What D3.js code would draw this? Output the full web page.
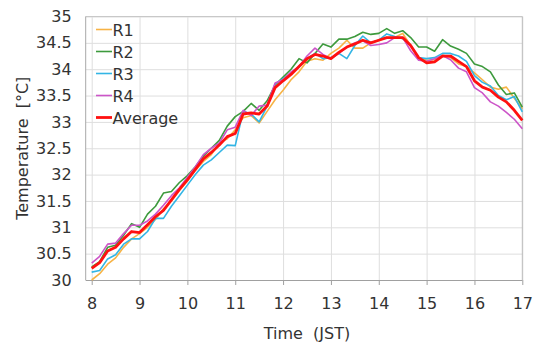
<!DOCTYPE html>
<html>
<head>
<meta charset="utf-8">
<script src="https://cdn.jsdelivr.net/npm/d3@7"></script>
<style>
  body { margin: 0; background: #fff; }
  text { font-family: "DejaVu Sans", sans-serif; fill: #333; }
</style>
</head>
<body>
<svg id="canvas" width="534" height="345"></svg>
<script>
// time every 10 min from 8:00 to 17:00
const times = d3.range(0, 55).map(i => 8 + i / 6);

const r1 = [30.0,30.12,30.3,30.42,30.62,30.78,30.88,31.0,31.15,31.35,31.5,31.7,31.88,32.08,32.25,32.38,32.6,32.68,32.85,33.08,33.12,32.98,33.2,33.42,33.6,33.8,33.95,34.15,34.2,34.17,34.3,34.4,34.55,34.4,34.4,34.5,34.55,34.6,34.6,34.68,34.45,34.22,34.17,34.18,34.27,34.22,34.1,34.05,33.93,33.8,33.66,33.62,33.66,33.45,33.25];
const r2 = [30.25,30.35,30.62,30.66,30.85,31.07,31.0,31.25,31.4,31.65,31.68,31.85,31.98,32.15,32.35,32.5,32.65,32.92,33.1,33.2,33.35,33.22,33.4,33.7,33.85,34.0,34.2,34.12,34.3,34.48,34.42,34.57,34.57,34.62,34.7,34.66,34.68,34.77,34.68,34.73,34.6,34.42,34.42,34.34,34.56,34.44,34.38,34.3,34.1,34.05,33.95,33.7,33.52,33.55,33.28];
const r3 = [30.15,30.18,30.4,30.48,30.68,30.78,30.78,30.92,31.17,31.17,31.4,31.6,31.8,32.0,32.18,32.28,32.42,32.56,32.55,33.2,33.15,33.0,33.3,33.72,33.82,33.92,34.05,34.2,34.3,34.2,34.22,34.3,34.2,34.45,34.63,34.5,34.55,34.67,34.62,34.58,34.45,34.22,34.2,34.22,34.3,34.3,34.25,34.15,33.88,33.75,33.68,33.5,33.42,33.48,33.19];
const r4 = [30.32,30.45,30.68,30.7,30.88,31.04,31.04,31.12,31.25,31.42,31.6,31.75,31.95,32.15,32.38,32.5,32.6,32.85,32.9,33.22,33.12,33.3,33.32,33.74,33.8,33.95,34.05,34.25,34.4,34.28,34.2,34.3,34.42,34.5,34.54,34.45,34.47,34.5,34.6,34.6,34.35,34.17,34.15,34.2,34.26,34.18,34.02,33.95,33.65,33.55,33.38,33.3,33.18,33.05,32.87];
const average = [30.22,30.33,30.55,30.62,30.78,30.92,30.9,31.05,31.2,31.32,31.52,31.72,31.9,32.1,32.3,32.42,32.56,32.72,32.78,33.15,33.17,33.15,33.3,33.65,33.78,33.9,34.05,34.2,34.28,34.25,34.2,34.32,34.42,34.48,34.55,34.5,34.55,34.6,34.6,34.6,34.45,34.22,34.12,34.14,34.25,34.25,34.15,34.05,33.78,33.66,33.6,33.47,33.38,33.22,33.03];

const seriesNames = ["R1","R2","R3","R4","Average"];
const seriesValues = [r1, r2, r3, r4, average];
const colorSet = ["#f7b345","#3d9a3d","#33b5e5","#cc55c8","#ff1010"];
const widths = [1.6,1.6,1.6,1.6,2.8];

const xTicks = [8,9,10,11,12,13,14,15,16,17];
const yTicks = [30,30.5,31,31.5,32,32.5,33,33.5,34,34.5,35];

let canvas = d3.select("#canvas");
let m = {left: 91.7, right: 522.3, top: 16.5, bottom: 280};

let x = d3.scaleLinear().domain([8,17]).range([m.left, m.right]);
let y = d3.scaleLinear().domain([30,35]).range([m.bottom, m.top]);

// grid
canvas.append("g")
  .attr("transform", `translate(0,${m.bottom})`)
  .call(d3.axisBottom(x).tickValues(xTicks).tickSize(-(m.bottom - m.top)).tickFormat(""))
  .call(g => g.select(".domain").remove())
  .selectAll("line").attr("stroke", "#dedede");

canvas.append("g")
  .attr("transform", `translate(${m.right},0)`)
  .call(d3.axisLeft(y).tickValues(yTicks).tickSize(m.right - m.left + 6).tickFormat(""))
  .call(g => g.select(".domain").remove())
  .selectAll("line").attr("stroke", "#dedede");

// frame
canvas.append("line").attr("x1", m.left - 6).attr("x2", m.right).attr("y1", m.top).attr("y2", m.top).attr("stroke", "#c8c8c8");
canvas.append("line").attr("x1", m.right).attr("x2", m.right).attr("y1", m.top).attr("y2", m.bottom).attr("stroke", "#bcbcbc");
canvas.append("line").attr("x1", m.left - 6).attr("x2", m.left - 6).attr("y1", m.top).attr("y2", m.bottom).attr("stroke", "#a8a8a8");

// x axis
let xAxis = canvas.append("g")
  .attr("transform", `translate(0,${m.bottom})`)
  .call(d3.axisBottom(x).tickValues(xTicks).tickSize(5).tickPadding(13).tickFormat(d => d));
xAxis.select(".domain").attr("d", `M${m.left - 6},0.5H${m.right}`).attr("stroke", "#a0a0a0");
xAxis.selectAll("line").attr("stroke", "#a0a0a0");
xAxis.selectAll("text").style("font-size", "16px").attr("fill", "#333");

// y axis labels
let yAxis = canvas.append("g")
  .attr("transform", `translate(${m.left - 6},0)`)
  .call(d3.axisLeft(y).tickValues(yTicks).tickSize(0).tickPadding(14).tickFormat(d => d));
yAxis.select(".domain").remove();
yAxis.selectAll("text").style("font-size", "16px").attr("fill", "#333");

// axis titles
canvas.append("text").text("Time  (JST)")
  .attr("x", 307).attr("y", 339)
  .attr("text-anchor", "middle").style("font-size", "16px").style("white-space", "pre");

canvas.append("text").text("Temperature  [°C]")
  .attr("transform", `translate(28,${(m.top + m.bottom) / 2}) rotate(-90)`)
  .attr("text-anchor", "middle").style("font-size", "16px").style("white-space", "pre");

// lines
let line = d3.line().x((d, i) => x(times[i])).y(d => y(d));
seriesValues.forEach((vals, k) => {
  canvas.append("path")
    .datum(vals)
    .attr("d", line)
    .attr("fill", "none")
    .attr("stroke", colorSet[k])
    .attr("stroke-width", widths[k])
    .attr("stroke-linejoin", "round");
});

// legend
let legbox = canvas.append("g").attr("id", "legend");
seriesNames.forEach((name, i) => {
  let ly = 29.5 + i * 22;
  legbox.append("line").attr("x1", 96).attr("x2", 112).attr("y1", ly).attr("y2", ly)
    .attr("stroke", colorSet[i]).attr("stroke-width", widths[i]);
  legbox.append("text").text(name).attr("x", 112.5).attr("y", ly + 6)
    .style("font-size", "16px").attr("fill", "#222");
});
</script>
</body>
</html>
